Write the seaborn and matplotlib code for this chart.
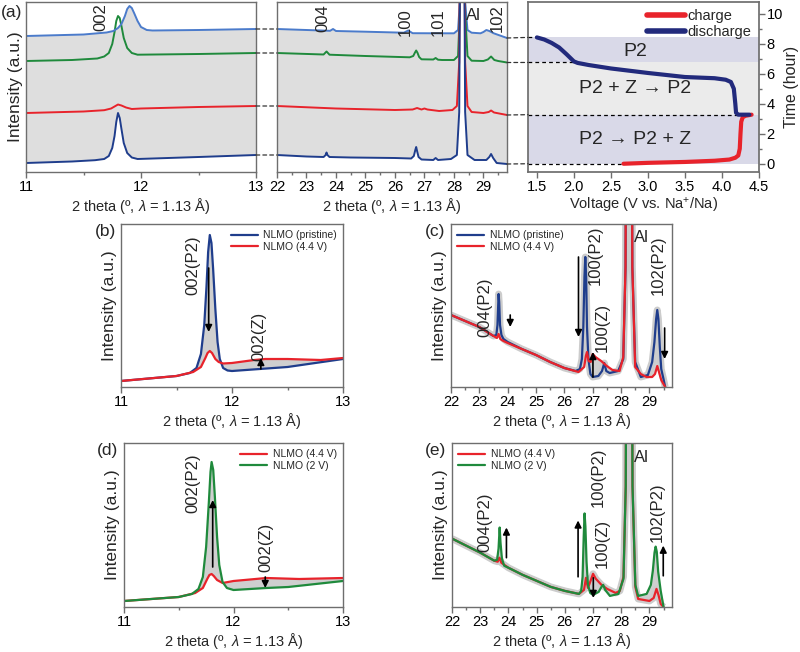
import matplotlib
matplotlib.use("Agg")
import matplotlib.pyplot as plt
from matplotlib.lines import Line2D
from matplotlib.patches import ConnectionPatch
from matplotlib.ticker import MultipleLocator, FormatStrFormatter
import seaborn as sns

# ============================
# DATA
# ============================
# (a) left: 002 region, stacked patterns (a.u., offset)
a1_blue_x = [11.0, 11.4, 11.6, 11.68, 11.72, 11.75, 11.77, 11.785, 11.8, 11.815, 11.83, 11.85, 11.88,
             11.92, 11.97, 12.5, 13.0]
a1_blue_y = [9, 10.5, 11.8, 13, 16, 24, 36, 50, 59, 54, 43, 29, 19, 14.5, 13, 15, 17]
a1_red_x = [11.0, 11.5, 11.68, 11.74, 11.77, 11.8, 11.83, 11.87, 11.92, 12.0, 12.5, 13.0]
a1_red_y = [59, 60.5, 61.8, 63.5, 65.5, 67.5, 66.5, 64.5, 63, 63.5, 65, 66]
a1_green_x = [11.0, 11.4, 11.62, 11.68, 11.72, 11.75, 11.77, 11.785, 11.8, 11.815, 11.83, 11.85, 11.88,
              11.92, 11.97, 12.5, 13.0]
a1_green_y = [111, 112, 113.5, 115.5, 119, 128, 140, 151, 156, 154, 146, 134, 124, 119, 117.3, 118, 119]
a1_lblue_x = [11.0, 11.5, 11.7, 11.76, 11.8, 11.83, 11.86, 11.88, 11.9, 11.92, 11.94, 11.97, 12.0,
              12.05, 12.1, 12.5, 13.0]
a1_lblue_y = [136, 137.5, 139.5, 141, 144, 148, 156, 163, 166, 164, 159, 151, 145, 142, 141.5, 142, 143]

# (a) middle: 22-29.8 region
a2_blue_x = [22.0, 23.0, 23.58, 23.65, 23.68, 23.71, 23.78, 24.5, 26.0, 26.55, 26.64, 26.69, 26.72, 26.75,
             26.8, 26.9, 27.3, 27.38, 27.46, 27.9, 28.1, 28.18, 28.24, 28.28, 28.32, 28.38, 28.46, 28.7,
             29.1, 29.2, 29.26, 29.33, 29.45, 29.8]
a2_blue_y = [17, 15.5, 15, 17, 19.5, 17, 15, 14.5, 14, 13.5, 16, 22, 25, 21,
             15, 12.5, 12, 14, 12, 13, 17, 60, 400, 600, 400, 60, 17, 12,
             12, 15, 18, 14, 9, 8]
a2_red_x = [22.0, 24.0, 26.0, 26.6, 26.75, 26.9, 27.0, 27.1, 27.5, 27.95, 28.1, 28.18, 28.24, 28.28,
            28.32, 28.38, 28.46, 28.6, 29.0, 29.18, 29.26, 29.36, 29.8]
a2_red_y = [66, 63.5, 62, 62.5, 64, 62.5, 63.5, 62.5, 61, 62, 66, 110, 400, 600,
            400, 110, 66, 60, 59, 60, 61.5, 59.5, 57]
a2_green_x = [22.0, 23.58, 23.68, 23.78, 25.0, 26.5, 26.62, 26.68, 26.72, 26.76, 26.82, 26.9, 27.3, 27.38,
              27.46, 27.6, 28.0, 28.14, 28.2, 28.24, 28.28, 28.32, 28.38, 28.46, 28.6, 29.0, 29.15, 29.26,
              29.37, 29.5, 29.8]
a2_green_y = [119, 117.5, 120.5, 117.3, 116, 114.7, 116, 119.5, 121.5, 119.5, 115, 112.7, 112.5, 114,
              112.3, 112, 112, 116, 160, 400, 600, 400, 160, 116, 111.3, 111, 112.5, 115.5,
              112, 111, 109.5]
a2_lblue_x = [22.0, 23.8, 23.9, 24.0, 25.0, 26.3, 26.45, 26.6, 27.5, 28.0, 28.14, 28.2, 28.24, 28.28,
              28.32, 28.38, 28.46, 28.6, 28.9, 29.0, 29.1, 29.2, 29.35, 29.8]
a2_lblue_y = [143, 141.2, 143, 141, 140.3, 139.3, 141.5, 138.8, 138.7, 138.7, 142, 170, 400, 600,
              400, 170, 142, 139.3, 138.7, 140, 142, 141, 138.7, 134]

# (a) right: electrochemistry
charge_v = [2.67, 3.0, 3.5, 3.9, 4.1, 4.18, 4.22, 4.24, 4.25, 4.26, 4.28, 4.32, 4.4]
charge_t = [0.0, 0.06, 0.12, 0.2, 0.28, 0.4, 0.55, 1.0, 2.0, 2.8, 3.1, 3.2, 3.27]
discharge_v = [4.37, 4.22, 4.19, 4.18, 4.16, 4.12, 4.05, 3.9, 3.5, 3.0, 2.5, 2.2, 2.05, 2.0, 1.9, 1.8, 1.7, 1.6, 1.5]
discharge_t = [3.27, 3.27, 3.4, 4.0, 5.0, 5.45, 5.6, 5.7, 5.78, 6.05, 6.35, 6.58, 6.72, 6.82, 7.3, 7.75, 8.05, 8.28, 8.42]
phase_edges = [0.0, 3.27, 6.75, 8.42]
phase_names = ["P2 \u2192 P2 + Z", "P2 + Z \u2192 P2", "P2"]
marker_t = [0.0, 3.27, 6.75, 8.42]
marker_v = [2.67, 4.2, 2.0, 1.5]

# (b) 002, pristine vs 4.4 V
b_blue_x = [11.0, 11.5, 11.62, 11.68, 11.72, 11.75, 11.77, 11.785, 11.8, 11.815, 11.83, 11.85, 11.87,
            11.89, 11.92, 11.96, 12.0, 12.5, 13.0]
b_blue_y = [6, 11, 14, 19, 33, 62, 100, 135, 152, 144, 118, 78, 45, 28, 19, 16.5, 16, 20, 28]
b_red_x = [11.0, 11.5, 11.65, 11.72, 11.76, 11.78, 11.8, 11.82, 11.85, 11.88, 11.92, 12.0, 12.2, 12.3,
           12.5, 12.8, 13.0]
b_red_y = [6, 11, 15, 20, 29, 34, 36, 34, 28, 25, 23.5, 24, 27, 28, 28, 27, 29]

# (c) 22-29.8, pristine vs 4.4 V
c_blue_x = [22.0, 22.5, 23.0, 23.5, 23.6, 23.64, 23.67, 23.68, 23.7, 23.73, 23.78, 23.85, 24.0, 24.5,
            25.0, 25.5, 26.0, 26.4, 26.55, 26.62, 26.67, 26.71, 26.74, 26.77, 26.8, 26.85, 26.92, 27.0,
            27.2, 27.33, 27.41, 27.48, 27.6, 27.9, 28.08, 28.16, 28.22, 28.28, 28.34, 28.4, 28.5, 28.7,
            28.95, 29.1, 29.18, 29.24, 29.28, 29.32, 29.37, 29.42, 29.5, 29.56]
c_blue_y = [72, 66, 60, 51, 52, 62, 85, 93, 85, 62, 52, 48, 45, 38,
            32, 25, 19, 16, 18, 28, 60, 110, 130, 110, 60, 28, 13, 10,
            11, 16, 24, 16, 14, 16, 28, 120, 600, 900, 600, 120, 25, 10,
            12, 25, 45, 68, 77, 68, 40, 18, 8, 0]
c_red_x = [22.0, 22.5, 23.0, 23.5, 23.62, 23.68, 23.74, 23.85, 24.0, 24.5, 25.0, 25.5, 26.0, 26.5, 26.7,
           26.76, 26.8, 26.86, 26.93, 27.0, 27.1, 27.3, 27.5, 27.7, 27.95, 28.08, 28.16, 28.22, 28.28,
           28.34, 28.4, 28.5, 28.7, 28.9, 29.1, 29.2, 29.28, 29.34, 29.42, 29.5, 29.56]
c_red_y = [72, 66, 60, 51, 49, 53, 48, 46, 44, 38, 32, 25, 19, 15, 20,
           31, 35, 26, 25, 33, 30, 26, 21, 17, 16, 30, 120, 600, 900,
           600, 120, 20, 13, 10, 10, 13, 21, 15, 7, 3, 0]

# (d) 002, 4.4 V vs 2 V
d_red_x = [11.0, 11.5, 11.65, 11.72, 11.76, 11.78, 11.8, 11.82, 11.85, 11.9, 12.0, 12.3, 12.6, 13.0]
d_red_y = [6, 10, 14, 19, 28, 32, 33, 31, 27, 24, 26, 29, 28, 29]
d_green_x = [11.0, 11.5, 11.62, 11.68, 11.72, 11.75, 11.775, 11.79, 11.8, 11.815, 11.83, 11.85, 11.87,
             11.9, 11.94, 12.0, 12.3, 12.5, 13.0]
d_green_y = [6, 10, 13, 18, 30, 60, 105, 135, 145, 137, 110, 70, 42, 25, 19, 17, 19, 20, 26]

# (e) 22-29.8, 4.4 V vs 2 V
e_red_x = [22.0, 22.5, 23.0, 23.5, 23.62, 23.68, 23.75, 24.0, 24.5, 25.0, 25.5, 26.0, 26.5, 26.68,
           26.75, 26.82, 26.9, 27.0, 27.1, 27.3, 27.5, 27.8, 27.95, 28.08, 28.16, 28.22, 28.28, 28.34,
           28.4, 28.5, 28.6, 29.0, 29.15, 29.25, 29.32, 29.4, 29.5]
e_red_y = [68, 61, 54, 46, 45, 49, 44, 39, 32, 26, 20, 16, 13, 17,
           29, 19, 25, 33, 28, 22, 18, 14, 16, 30, 120, 600, 900, 600,
           120, 20, 8, 6, 9, 18, 12, 3, 0]
e_green_x = [22.0, 22.5, 23.0, 23.5, 23.6, 23.65, 23.69, 23.72, 23.77, 23.85, 24.0, 24.5, 25.0, 25.5,
             26.0, 26.5, 26.58, 26.63, 26.67, 26.7, 26.73, 26.77, 26.82, 26.9, 27.0, 27.2, 27.3, 27.36,
             27.43, 27.6, 27.9, 28.08, 28.16, 28.22, 28.28, 28.34, 28.4, 28.5, 28.6, 28.9, 29.05, 29.12,
             29.18, 29.22, 29.26, 29.31, 29.4, 29.5]
e_green_y = [68, 61, 54, 46, 47, 58, 79, 64, 48, 41, 39, 32, 26, 20,
             16, 13, 16, 30, 70, 93, 80, 45, 22, 14, 12, 15, 20, 22,
             17, 11, 13, 28, 120, 600, 900, 600, 120, 22, 11, 13, 22, 36,
             54, 60, 55, 35, 16, 0]

# ============================
# STYLE
# ============================
sns.set_theme(style="ticks")
plt.rcParams['font.family'] = ['Liberation Sans', 'DejaVu Sans']
plt.rcParams['mathtext.fontset'] = 'custom'
plt.rcParams['mathtext.rm'] = 'Liberation Sans'
plt.rcParams['mathtext.it'] = 'Liberation Sans:italic'

NAVY = '#1f3d8c'
LBLUE = '#4b7bcb'
RED = '#e8232b'
GREEN = '#1f8a3c'
DIS = '#222a7c'
FILL = '#dedede'
SPINE = '#6e6e6e'
XLAB = '2 theta (\u00ba, $\\lambda$ = 1.13 \u00c5)'
TICK = 10.5

W, H = 800, 652
fig = plt.figure(figsize=(W / 100, H / 100), dpi=100)


def add_ax(x0, y0, x1, y1):
    return fig.add_axes([x0 / W, 1 - y1 / H, (x1 - x0) / W, (y1 - y0) / H])


def style(ax, major, minor):
    for s in ax.spines.values():
        s.set_visible(True)
        s.set_color(SPINE)
        s.set_linewidth(1.0)
    ax.xaxis.set_major_locator(MultipleLocator(major))
    ax.xaxis.set_minor_locator(MultipleLocator(minor))
    ax.tick_params(axis='x', which='both', direction='out', colors=SPINE,
                   labelcolor='black', labelsize=TICK, width=1, pad=1.5)
    ax.tick_params(axis='x', which='major', length=4)
    ax.tick_params(axis='x', which='minor', length=2.5)
    ax.set_yticks([])
    ax.set_xlabel(XLAB, fontsize=10.5, labelpad=2)


def curve(ax, x, y, color, lw):
    sns.lineplot(x=x, y=y, ax=ax, color=color, lw=lw, sort=False,
                 estimator=None, legend=False)


def band(ax, x1, y1, x2, y2, color=FILL):
    ax.fill(list(x1) + list(x2)[::-1], list(y1) + list(y2)[::-1],
            color=color, lw=0, zorder=1)


def arrow(ax, x, y0, y1):
    ax.annotate('', xy=(x, y1), xytext=(x, y0),
                arrowprops=dict(arrowstyle='-|>', color='black', lw=1.2,
                                mutation_scale=10, shrinkA=0, shrinkB=0))


def rlabel(ax, x, y, s):
    ax.text(x, y, s, rotation=90, ha='center', va='center', fontsize=12)


# ============================
# (a) stacked operando patterns
# ============================
axA1 = add_ax(26, 2, 256, 172)
axA2 = add_ax(277, 2, 507, 172)
axA3 = add_ax(528, 2, 759, 172)

band(axA1, a1_blue_x, a1_blue_y, a1_lblue_x, a1_lblue_y)
for xs, ys, c in [(a1_blue_x, a1_blue_y, NAVY), (a1_red_x, a1_red_y, RED),
                  (a1_green_x, a1_green_y, GREEN), (a1_lblue_x, a1_lblue_y, LBLUE)]:
    curve(axA1, xs, ys, c, 1.4)
axA1.set_xlim(11, 13)
axA1.set_ylim(0, 170)
style(axA1, 1, 0.5)
axA1.set_ylabel('Intensity (a.u.)', fontsize=12.5, labelpad=2)
axA1.text(11.65, 155, '002', rotation=90, ha='center', va='center', fontsize=12)

band(axA2, a2_blue_x, a2_blue_y, a2_lblue_x, a2_lblue_y)
for xs, ys, c in [(a2_lblue_x, a2_lblue_y, LBLUE), (a2_green_x, a2_green_y, GREEN),
                  (a2_red_x, a2_red_y, RED), (a2_blue_x, a2_blue_y, NAVY)]:
    curve(axA2, xs, ys, c, 1.4)
axA2.set_xlim(22, 29.8)
axA2.set_ylim(0, 170)
style(axA2, 1, 0.5)
for x, y, s in [(23.56, 154, '004'), (26.34, 150, '100'), (27.46, 150, '101'), (29.48, 154, '102')]:
    axA2.text(x, y, s, rotation=90, ha='center', va='center', fontsize=12)
axA2.text(28.42, 157, 'Al', ha='left', va='center', fontsize=12)

# voltage / time panel
colors_band = ['#d9d9e8', '#ebebeb', '#d9d9e8']
for i in range(3):
    axA3.axhspan(phase_edges[i], phase_edges[i + 1], color=colors_band[i], lw=0, zorder=0)
curve(axA3, charge_v, charge_t, RED, 3)
curve(axA3, discharge_v, discharge_t, DIS, 3)
axA3.set_xlim(1.38, 4.5)
axA3.set_ylim(-0.55, 10.78)
for t, v in zip(marker_t, marker_v):
    axA3.plot([1.38, v], [t, t], color='black', lw=0.9, ls=(0, (3, 2.5)), zorder=1)
for i, name in enumerate(phase_names):
    mid = (phase_edges[i] + phase_edges[i + 1]) / 2
    axA3.text(2.83, mid + (0.0 if i < 2 else -0.1), name, ha='center', va='center', fontsize=14)
for s in axA3.spines.values():
    s.set_color(SPINE)
axA3.xaxis.set_major_locator(MultipleLocator(0.5))
axA3.xaxis.set_major_formatter(FormatStrFormatter('%.1f'))
axA3.yaxis.set_major_locator(MultipleLocator(2))
axA3.yaxis.set_minor_locator(MultipleLocator(1))
axA3.yaxis.tick_right()
axA3.yaxis.set_label_position('right')
axA3.tick_params(axis='both', which='both', direction='out', colors=SPINE,
                 labelcolor='black', labelsize=TICK, width=1, pad=1.5)
axA3.tick_params(axis='both', which='major', length=4)
axA3.tick_params(axis='y', which='minor', length=2.5, right=True, left=False)
axA3.set_xlabel('Voltage (V vs. Na$^{+}$/Na)', fontsize=10.5, labelpad=2)
axA3.set_ylabel('Time (hour)', fontsize=11.5, labelpad=1)
axA3.legend(handles=[Line2D([], [], color=RED, lw=4, label='charge'),
                     Line2D([], [], color=DIS, lw=4, label='discharge')],
            loc='upper right', frameon=False, fontsize=10.5, handlelength=2.6,
            handletextpad=0.2, borderaxespad=0.1, labelspacing=0.15)

# dashed connectors between the (a) panels
for ya, yb in zip([a1_blue_y[-1], a1_red_y[-1], a1_green_y[-1], a1_lblue_y[-1]],
                  [a2_blue_y[0], a2_red_y[0], a2_green_y[0], a2_lblue_y[0]]):
    fig.add_artist(ConnectionPatch(xyA=(13, ya), coordsA=axA1.transData,
                                   xyB=(22, yb), coordsB=axA2.transData,
                                   color='#333333', lw=0.9, ls=(0, (3, 2.5))))
for ya, t in zip([a2_blue_y[-1], a2_red_y[-1], a2_green_y[-1], a2_lblue_y[-1]], marker_t):
    fig.add_artist(ConnectionPatch(xyA=(29.8, ya), coordsA=axA2.transData,
                                   xyB=(1.38, t), coordsB=axA3.transData,
                                   color='#333333', lw=0.9, ls=(0, (3, 2.5))))

# ============================
# (b)-(e) comparisons
# ============================
axB = add_ax(121, 224, 343, 387)
axC = add_ax(451, 224, 672, 387)
axD = add_ax(124, 443, 343, 607)
axE = add_ax(452, 443, 672, 607)

panels = [
    (axB, (11, 13), 163, (b_blue_x, b_blue_y, NAVY, 'NLMO (pristine)'),
     (b_red_x, b_red_y, RED, 'NLMO (4.4 V)'), 'upper right'),
    (axC, (22, 29.8), 163, (c_blue_x, c_blue_y, NAVY, 'NLMO (pristine)'),
     (c_red_x, c_red_y, RED, 'NLMO (4.4 V)'), 'upper left'),
    (axD, (11, 13), 164, (d_red_x, d_red_y, RED, 'NLMO (4.4 V)'),
     (d_green_x, d_green_y, GREEN, 'NLMO (2 V)'), 'upper right'),
    (axE, (22, 29.8), 163, (e_red_x, e_red_y, RED, 'NLMO (4.4 V)'),
     (e_green_x, e_green_y, GREEN, 'NLMO (2 V)'), 'upper left'),
]
for ax, xl, ytop, s1, s2, loc in panels:
    band(ax, s1[0], s1[1], s2[0], s2[1], color='#cfcfcf')
    if xl[0] > 20:
        # spread of the intermediate scans along the shared background
        ax.plot(s1[0], s1[1], color='#cccccc', lw=5, zorder=1, solid_capstyle='butt')
    curve(ax, s1[0], s1[1], s1[2], 1.6)
    curve(ax, s2[0], s2[1], s2[2], 1.6)
    ax.set_xlim(*xl)
    ax.set_ylim(0, ytop)
    style(ax, 1, 0.5)
    ax.set_ylabel('Intensity (a.u.)', fontsize=12.5, labelpad=3)
    ax.legend(handles=[Line2D([], [], color=s1[2], lw=1.6, label=s1[3]),
                       Line2D([], [], color=s2[2], lw=1.6, label=s2[3])],
              loc=loc, frameon=False, fontsize=7.5, handlelength=2.6,
              handletextpad=0.5, borderaxespad=0.2, labelspacing=0.15)

# (b) annotations
rlabel(axB, 11.65, 122, '002(P2)')
rlabel(axB, 12.24, 51, '002(Z)')
arrow(axB, 11.79, 119, 55)
arrow(axB, 12.26, 18, 29)

# (c) annotations
rlabel(axC, 23.2, 80, '004(P2)')
rlabel(axC, 27.1, 132, '100(P2)')
rlabel(axC, 27.35, 60, '100(Z)')
rlabel(axC, 29.33, 122, '102(P2)')
axC.text(28.45, 149, 'Al', ha='left', va='center', fontsize=12)
arrow(axC, 24.09, 72, 60)
arrow(axC, 26.5, 130, 50)
arrow(axC, 27.01, 10, 35)
arrow(axC, 29.54, 59, 28)

# (d) annotations
rlabel(axD, 11.63, 124, '002(P2)')
rlabel(axD, 12.3, 60, '002(Z)')
arrow(axD, 11.81, 40, 107)
arrow(axD, 12.29, 30, 19)

# (e) annotations
rlabel(axE, 23.16, 84, '004(P2)')
rlabel(axE, 27.2, 129, '100(P2)')
rlabel(axE, 27.34, 63, '100(Z)')
rlabel(axE, 29.28, 94, '102(P2)')
axE.text(28.45, 149, 'Al', ha='left', va='center', fontsize=12)
arrow(axE, 23.93, 49, 79)
arrow(axE, 26.47, 30, 86)
arrow(axE, 27.01, 29, 9)
arrow(axE, 29.49, 31, 61)

# panel letters
for s, x, y in [('(a)', 1, 12), ('(b)', 95, 232), ('(c)', 425, 232), ('(d)', 97, 451), ('(e)', 425, 451)]:
    fig.text(x / W, 1 - y / H, s, fontsize=12.5, ha='left', va='center')

fig.savefig('out.png', dpi=100)
